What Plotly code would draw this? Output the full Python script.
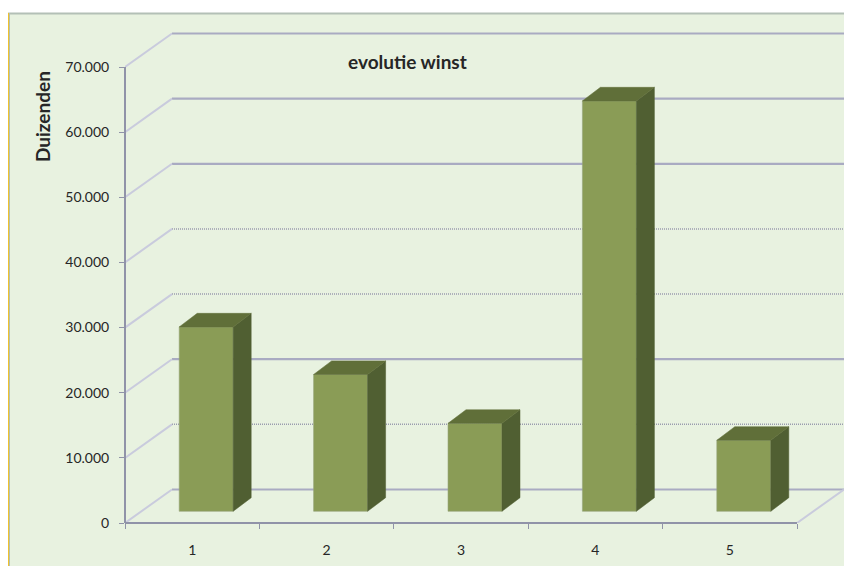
import plotly.graph_objects as go

# ---- data ----
categories = [1, 2, 3, 4, 5]
winst = [28300, 21000, 13500, 63000, 10900]
axis_ticks = [0, 10000, 20000, 30000, 40000, 50000, 60000, 70000]
tick_labels = ["0", "10.000", "20.000", "30.000", "40.000", "50.000", "60.000", "70.000"]
dotted_grid = [10000, 30000, 40000]

# ---- geometry (pixels are page pixels; the page has an 8px body margin) ----
PAGE = 8
W, H = 852 - PAGE, 566 - PAGE
AX_L, AX_B, AX_R = 125.0 - PAGE, 522.7 - PAGE, 797.0 - PAGE
PX_X = (AX_R - AX_L) / 5            # pixels per category
PX_Y = (522.7 - 67.0) / 70000       # pixels per unit
X0, X1 = 0.5, 5.5
XMAX = X1 + (W - AX_R) / PX_X
YMAX = AX_B / PX_Y
WALL_DX, WALL_DY = 47 / PX_X, 33.5 / PX_Y
SIDE_DX, SIDE_DY = 18 / PX_X, 13.6 / PX_Y
BAR_W = 54 / PX_X
BAR_SHIFT = 14 / PX_X
BAR_BASE = 11.7 / PX_Y

FRONT, SIDE, TOP = "#8A9C56", "#505F32", "#606F39"
PANEL = "#E8F2E0"
GRID, GRID_LIGHT, DIAG, AXIS = "#A9ABC2", "#9A9CAE", "#C9CBDD", "#9093A8"
TXT = "#262626"
FONT = "Lato"

def px_x(p):
    return (p - PAGE - AX_L) / (W - AX_L)

def px_y(p):
    return (AX_B - (p - PAGE)) / AX_B

shapes = []
# panel background and its border
shapes.append(dict(type="rect", xref="paper", yref="paper", layer="below",
                   x0=px_x(8), x1=px_x(860), y0=px_y(570), y1=px_y(13),
                   fillcolor=PANEL, line_width=0))
shapes.append(dict(type="line", xref="paper", yref="paper", layer="below",
                   x0=px_x(8), x1=px_x(852), y0=px_y(13.5), y1=px_y(13.5),
                   line=dict(color="#B3C0B6", width=2)))
shapes.append(dict(type="line", xref="paper", yref="paper", layer="below",
                   x0=px_x(8.5), x1=px_x(8.5), y0=px_y(570), y1=px_y(13),
                   line=dict(color="#EFC22E", width=1)))
shapes.append(dict(type="line", xref="paper", yref="paper", layer="below",
                   x0=px_x(9.5), x1=px_x(9.5), y0=px_y(570), y1=px_y(13),
                   line=dict(color="#B3C0B6", width=1)))

# back wall gridlines and their diagonals on the side wall
for v in axis_ticks:
    dotted = v in dotted_grid
    shapes.append(dict(type="line", layer="below", xref="x", yref="y",
                       x0=X0 + WALL_DX, x1=X1 + WALL_DX, y0=v + WALL_DY, y1=v + WALL_DY,
                       line=dict(color=GRID_LIGHT if dotted else GRID,
                                 width=1.5 if dotted else 2.2,
                                 dash="1px,1px" if dotted else "solid")))
    shapes.append(dict(type="line", layer="below", xref="x", yref="y",
                       x0=X0, x1=X0 + WALL_DX, y0=v, y1=v + WALL_DY,
                       line=dict(color=DIAG, width=2)))
# floor edge on the right
shapes.append(dict(type="line", layer="below", xref="x", yref="y",
                   x0=X1, x1=X1 + WALL_DX, y0=0, y1=WALL_DY,
                   line=dict(color=DIAG, width=2)))

# axis lines (paper-referenced so the full stroke shows at the plot edge)
x_frac = lambda x: (x - X0) / (XMAX - X0)
y_frac = lambda y: y / YMAX
shapes.append(dict(type="line", xref="paper", yref="paper", layer="above",
                   x0=x_frac(X0), x1=x_frac(X0), y0=y_frac(0), y1=y_frac(axis_ticks[-1]),
                   line=dict(color=AXIS, width=2)))
shapes.append(dict(type="line", xref="paper", yref="paper", layer="above",
                   x0=x_frac(X0), x1=x_frac(X1), y0=y_frac(0), y1=y_frac(0),
                   line=dict(color=AXIS, width=2)))

fig = go.Figure()

bar_x = [c + BAR_SHIFT for c in categories]
fig.add_trace(go.Bar(x=bar_x, y=winst, base=BAR_BASE, width=BAR_W,
                     marker=dict(color=FRONT, line=dict(color="rgba(150,165,125,0.6)", width=1)),
                     showlegend=False, hoverinfo="skip"))

for cx, v in zip(bar_x, winst):
    xl, xr = cx - BAR_W / 2, cx + BAR_W / 2
    yb, yt = BAR_BASE, BAR_BASE + v
    fig.add_trace(go.Scatter(x=[xr, xr + SIDE_DX, xr + SIDE_DX, xr, xr],
                             y=[yb, yb + SIDE_DY, yt + SIDE_DY, yt, yb],
                             mode="lines", fill="toself", fillcolor=SIDE,
                             line=dict(color=SIDE, width=0.5),
                             showlegend=False, hoverinfo="skip"))
    fig.add_trace(go.Scatter(x=[xl, xl + SIDE_DX, xr + SIDE_DX, xr, xl],
                             y=[yt, yt + SIDE_DY, yt + SIDE_DY, yt, yt],
                             mode="lines", fill="toself", fillcolor=TOP,
                             line=dict(color=TOP, width=0.5),
                             showlegend=False, hoverinfo="skip"))

fig.update_layout(
    width=W, height=H, autosize=False,
    margin=dict(l=AX_L, r=0, t=0, b=H - AX_B, pad=0),
    paper_bgcolor="white", plot_bgcolor="rgba(0,0,0,0)",
    font=dict(family=FONT, size=14, color=TXT),
    shapes=shapes, showlegend=False, hovermode=False,
    xaxis=dict(range=[X0, XMAX], tickmode="array", tickvals=categories,
               ticktext=[str(c) for c in categories], ticks="", showgrid=False,
               zeroline=False, showline=False, ticklabelstandoff=17,
               tickfont=dict(family=FONT, size=14, color=TXT),
               minor=dict(tickmode="array", tickvals=[0.5, 1.5, 2.5, 3.5, 4.5, 5.5],
                          ticks="outside", ticklen=5, tickcolor=AXIS, tickwidth=1, showgrid=False)),
    yaxis=dict(range=[0, YMAX], tickmode="array", tickvals=axis_ticks, ticktext=tick_labels,
               ticks="outside", ticklen=5, tickcolor=AXIS, tickwidth=1, showgrid=False,
               zeroline=False, showline=False, ticklabelstandoff=7,
               tickfont=dict(family=FONT, size=14, color=TXT)),
    annotations=[
        dict(text="<b>evolutie winst</b>", xref="paper", yref="paper", x=px_x(407), y=px_y(61),
             showarrow=False, font=dict(family=FONT, size=19, color=TXT), xanchor="center", yanchor="middle"),
        dict(text="<b>Duizenden</b>", xref="paper", yref="paper", x=px_x(42), y=px_y(117), textangle=-90,
             showarrow=False, font=dict(family=FONT, size=19, color=TXT), xanchor="center", yanchor="middle"),
    ],
)

fig.write_html("out.html")
